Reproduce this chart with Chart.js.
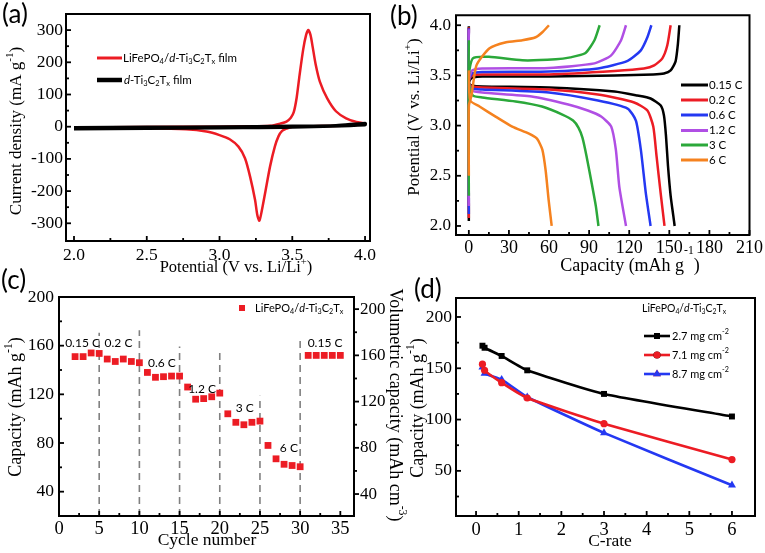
<!DOCTYPE html>
<html><head><meta charset="utf-8">
<script src="https://cdn.jsdelivr.net/npm/chart.js@4.4.0/dist/chart.umd.min.js"></script>
<style>
html,body{margin:0;padding:0;background:#fff;}
#wrap{position:relative;width:765px;height:553px;overflow:hidden;background:#fff;}
canvas{position:absolute;left:0;top:0;}
</style></head><body><div id="wrap">
<canvas id="ca" width="765" height="553"></canvas>
<canvas id="cb" width="765" height="553"></canvas>
<canvas id="cc" width="765" height="553"></canvas>
<canvas id="cd" width="765" height="553"></canvas>
</div>
<script>
const SERIF = '"Liberation Serif", "Times New Roman", serif';
const SANS = 'Lato, "Open Sans", sans-serif';

// ---------- (a) cyclic voltammetry ----------
const cvRedPotential = [2.00,2.50,3.00,3.20,3.35,3.42,3.46,3.49,3.51,3.53,3.55,3.575,3.595,3.61,3.625,3.64,3.66,3.69,3.74,3.80,3.87,3.94,4.00,
  4.00,3.90,3.70,3.50,3.46,3.43,3.405,3.38,3.347,3.313,3.29,3.274,3.26,3.244,3.21,3.175,3.13,3.07,3.00,2.91,2.77,2.52,2.00];
const cvRedCurrent = [-2,-1,0,1,3,10,16,28,45,90,160,240,285,300,285,248,195,139,88,48,26,15,10,
  8,4,2,0,-6,-13,-30,-62,-124,-207,-262,-292,-275,-227,-155,-98,-62,-39,-26,-15,-8,-5,-4];
const cvBlackPotential = [2.0,2.5,3.0,3.5,3.8,4.0,4.0,3.5,3.0,2.5,2.0];
const cvBlackCurrent = [-3,-2,-1,1,3,10,6,-1,-3,-5,-6];
const cvTicksX = [2.0,2.5,3.0,3.5,4.0];
const cvMinorX = [2.25,2.75,3.25,3.75];
const cvTicksY = [-300,-200,-100,0,100,200,300];
const cvMinorY = [-250,-150,-50,50,150,250];

// ---------- (b) charge / discharge profiles ----------
const rateNames = ['0.15 C','0.2 C','0.6 C','1.2 C','3 C','6 C'];
const c015ChargeCap = [0,0,1,3,10,60,109,138,146,151,154.7,156.4,157.5];
const c015ChargeV   = [2.05,3.42,3.46,3.48,3.49,3.49,3.50,3.51,3.52,3.55,3.64,3.81,4.00];
const c015DischCap  = [0,0,2,10,60,109,126,136,143.6,146,147.5,149,151,153,154];
const c015DischV    = [3.99,3.42,3.40,3.39,3.38,3.34,3.30,3.27,3.20,3.10,2.90,2.60,2.30,2.10,2.00];
const c02ChargeCap = [0,0,2.5,10,60,109,131,138.7,144.8,148.5,151];
const c02ChargeV   = [2.08,3.45,3.50,3.51,3.51,3.545,3.57,3.60,3.67,3.80,4.00];
const c02DischCap  = [0,0,2,10,60,96.6,123.7,133.6,138,140.5,143.5,146.4];
const c02DischV    = [3.98,3.42,3.39,3.38,3.36,3.31,3.23,3.15,2.99,2.69,2.33,2.00];
const c06ChargeCap = [0,0,2.5,10,60,96.6,118.8,128.7,133.6,136.6];
const c06ChargeV   = [2.12,3.45,3.52,3.535,3.54,3.57,3.645,3.75,3.88,4.00];
const c06DischCap  = [0,0,2,10,60,96.6,118.8,125,128.7,132.4,136];
const c06DischV    = [3.97,3.42,3.37,3.36,3.33,3.25,3.17,3.05,2.76,2.33,2.00];
const c12ChargeCap = [0,0,2.5,10,60,94,106.5,113.9,117.6];
const c12ChargeV   = [2.20,3.45,3.55,3.57,3.575,3.62,3.70,3.85,4.00];
const c12DischCap  = [0,0,2,10,47,74.4,89,99,106.5,110,112.6,117.6];
const c12DischV    = [3.96,3.42,3.35,3.33,3.29,3.21,3.15,3.09,2.99,2.76,2.39,2.00];
const c3ChargeCap  = [0,0,3,15,40,65,76,87,94,97.9];
const c3ChargeV    = [2.30,3.50,3.67,3.685,3.65,3.66,3.68,3.72,3.85,4.00];
const c3DischCap   = [0,0,3,10,35,54.7,70,78,82,85,88,92,95,97];
const c3DischV     = [3.85,3.42,3.30,3.28,3.24,3.19,3.11,3.05,2.98,2.88,2.70,2.42,2.20,2.00];
const c6ChargeCap  = [0,0,2,5.7,15.5,27.9,40,50,55,59.9];
const c6ChargeV    = [2.50,3.20,3.30,3.60,3.77,3.83,3.85,3.88,3.93,4.00];
const c6DischCap   = [0,1,8,20,32.5,45,51,55,57.5,59.7,62];
const c6DischV     = [3.55,3.25,3.19,3.09,2.99,2.92,2.87,2.76,2.55,2.26,2.00];
const profTicksX = [0,30,60,90,120,150,180,210];
const profMinorX = [15,45,75,105,135,165,195];
const profTicksY = [2.0,2.5,3.0,3.5,4.0];
const profMinorY = [2.25,2.75,3.25,3.75];

// ---------- (c) rate performance ----------
const cycleNumbers = [2,3,4,5,6,7,8,9,10,11,12,13,14,15,16,17,18,19,20,21,22,23,24,25,26,27,28,29,30,31,32,33,34,35];
const cycleCapacity = [151,151,154,153.6,149,147,149,147,146,138,134,134.5,135,135,126,116,116.5,118,121,104,97,95,97,98,78,67,62.5,61.5,60.5,152,152,152,152,152];
const separatorCycles = [5,10,15,20,25,30];
const separatorTops = [170.7,172.7,159.3,154.4,118.9,166.6];
const stepLabels = ['0.15 C','0.2 C','0.6 C','1.2 C','3 C','6 C','0.15 C'];
const stepLabelCycle = [2.93,7.4,12.8,17.8,23.1,28.6,33.1];
const stepLabelCap = [162.5,162.5,145.6,124,108.7,75.6,162.5];
const cycTicksX = [0,5,10,15,20,25,30,35];
const cycMinorX = [2.5,7.5,12.5,17.5,22.5,27.5,32.5];
const cycTicksY = [40,80,120,160,200];
const cycMinorY = [60,100,140,180];
const volTicksY = [40,80,120,160,200];
const volMinorY = [60,100,140,180];

// ---------- (d) capacity vs C-rate ----------
const cRates = [0.15,0.2,0.6,1.2,3,6];
const cap27 = [172,170,162,148,125,103];
const cap71 = [154,148,136,121,96,61];
const cap87 = [151,145,139,122,87,36];
const loadingNames = ['2.7 mg cm^{-2}','7.1 mg cm^{-2}','8.7 mg cm^{-2}'];
const crTicksX = [0,1,2,3,4,5,6];
const crMinorX = [0.5,1.5,2.5,3.5,4.5,5.5];
const crTicksY = [50,100,150,200];
const crMinorY = [25,75,125,175];

// ---------- helpers ----------
const pair = (xs, ys) => xs.map((x, i) => ({x, y: ys[i]}));

function parseRich(s){
  const parts=[]; let i=0, italic=false, buf='';
  const push=(t,mode)=>{ if(t) parts.push({t, mode, it: italic}); };
  while(i<s.length){
    const c=s[i];
    if((c==='_'||c==='^') && s[i+1]==='{'){
      push(buf,''); buf='';
      const j=s.indexOf('}',i);
      push(s.slice(i+2,j), c==='_'?'sub':'sup');
      i=j+1; continue;
    }
    if(c==='*'){ push(buf,''); buf=''; italic=!italic; i++; continue; }
    buf+=c; i++;
  }
  push(buf,'');
  return parts;
}
function drawRich(ctx, o){
  const parts=parseRich(o.text);
  const f=(p)=>`${p.it?'italic ':''}${p.mode?(o.size*0.65).toFixed(1):o.size}px ${o.family||SERIF}`;
  let w=0; parts.forEach(p=>{ctx.font=f(p); p.w=ctx.measureText(p.t).width; w+=p.w;});
  ctx.save(); ctx.translate(o.x,o.y); if(o.rot) ctx.rotate(o.rot*Math.PI/180);
  ctx.fillStyle=o.color||'#000'; ctx.textBaseline='middle'; ctx.textAlign='left';
  let cx = o.align==='left'?0:(o.align==='right'?-w:-w/2);
  parts.forEach(p=>{ctx.font=f(p);
    const dy = p.mode==='sub'? o.size*0.3 : (p.mode==='sup'? -o.size*(o.supUp||0.38) : 0);
    ctx.fillText(p.t,cx,dy); cx+=p.w;});
  ctx.restore();
}

function scale(min,max,ticks,o){
  return {type:'linear', min, max, position:o.position,
    grid:{display:false, drawTicks:false}, border:{display:false},
    ticks:{autoSkip:false, maxRotation:0, minRotation:0, padding:o.pad, color:'#000',
      font:{family:SERIF, size:o.size}, callback:(v)=> o.dec!=null ? Number(v).toFixed(o.dec) : String(v)},
    afterBuildTicks:(s)=>{ s.ticks = ticks.map(v=>({value:v})); },
    afterFit:(s)=>{ if(s.isHorizontal()) s.height=30; else s.width=50; }
  };
}

function framePlugin(cfg){
  return {id:'frame', afterDatasetsDraw(chart){
    const ctx=chart.ctx, a=chart.chartArea;
    ctx.save(); ctx.strokeStyle='#000'; ctx.lineWidth=2;
    ctx.beginPath(); ctx.rect(a.left,a.top,a.right-a.left,a.bottom-a.top); ctx.stroke();
    ctx.lineWidth=1.8; ctx.lineCap='butt';
    const sx=chart.scales.x, sy=chart.scales.y, sy2=chart.scales.y2;
    const tx=(vals,len)=>vals.forEach(v=>{const p=sx.getPixelForValue(v); ctx.beginPath(); ctx.moveTo(p,a.bottom); ctx.lineTo(p,a.bottom-len); ctx.stroke();});
    const ty=(vals,len)=>vals.forEach(v=>{const p=sy.getPixelForValue(v); ctx.beginPath(); ctx.moveTo(a.left,p); ctx.lineTo(a.left+len,p); ctx.stroke();});
    const ty2=(vals,len)=>vals.forEach(v=>{const p=sy2.getPixelForValue(v); ctx.beginPath(); ctx.moveTo(a.right,p); ctx.lineTo(a.right+len,p); ctx.stroke();});
    tx(cfg.xMajor,5); tx(cfg.xMinor,3); ty(cfg.yMajor,5); ty(cfg.yMinor,3);
    if(cfg.y2Major){ ty2(cfg.y2Major,5); ty2(cfg.y2Minor,3); }
    ctx.restore();
  }};
}
function decoPlugin(fn){ return {id:'deco', afterDraw(chart){ const ctx=chart.ctx; ctx.save(); fn(chart, ctx); ctx.restore(); }}; }

function baseOptions(pad){
  return {responsive:false, animation:false, events:[], devicePixelRatio:1,
    layout:{padding:pad},
    plugins:{legend:{display:false}, tooltip:{enabled:false}, title:{display:false}}};
}

const RED='#ec1c24', BLACK='#000000', BLUE='#2438f2', PURPLE='#b04fe4', GREEN='#2ba83a', ORANGE='#f5821f';

// ---------- chart (a) ----------
(function(){
  const o = baseOptions({left:16, top:14, right:765-370, bottom:553-241-30});
  o.scales = {
    x: scale(1.945,4.034,cvTicksX,{position:'bottom', pad:4, size:17.5, dec:1}),
    y: scale(-355,350,cvTicksY,{position:'left', pad:3, size:17.5})
  };
  new Chart(document.getElementById('ca'), {
    type:'scatter',
    data:{datasets:[
      {label:'d-Ti3C2Tx film', data:pair(cvBlackPotential,cvBlackCurrent), showLine:true, borderColor:BLACK, borderWidth:3.5, pointRadius:0, tension:0.3},
      {label:'LiFePO4/d-Ti3C2Tx film', data:pair(cvRedPotential,cvRedCurrent), showLine:true, borderColor:RED, borderWidth:2.5, pointRadius:0, tension:0.25}
    ]},
    options:o,
    plugins:[framePlugin({xMajor:cvTicksX,xMinor:cvMinorX,yMajor:cvTicksY,yMinor:cvMinorY}),
      decoPlugin((chart,ctx)=>{
        drawRich(ctx,{text:'(a)', x:2, y:15, size:26, family:SANS, align:'left'});
        drawRich(ctx,{text:'Current density (mA g^{-1})', x:17, y:131, size:17, rot:-90});
        drawRich(ctx,{text:'Potential (V vs. Li/Li^{+})', x:236, y:268, size:16.5});
        ctx.lineCap='butt';
        ctx.strokeStyle=RED; ctx.lineWidth=3; ctx.beginPath(); ctx.moveTo(97,58); ctx.lineTo(122,58); ctx.stroke();
        ctx.strokeStyle=BLACK; ctx.lineWidth=4.5; ctx.beginPath(); ctx.moveTo(97,80); ctx.lineTo(122,80); ctx.stroke();
        drawRich(ctx,{text:'LiFePO_{4}/*d*-Ti_{3}C_{2}T_{x} film', x:123, y:58, size:11.5, family:SANS, align:'left'});
        drawRich(ctx,{text:'*d*-Ti_{3}C_{2}T_{x} film', x:124, y:80, size:11.5, family:SANS, align:'left'});
      })]
  });
})();

// ---------- chart (b) ----------
(function(){
  const o = baseOptions({left:456-50, top:15, right:765-753, bottom:553-235-30});
  o.scales = {
    x: scale(-9.6,210,profTicksX,{position:'bottom', pad:2, size:18}),
    y: scale(1.91,4.10,profTicksY,{position:'left', pad:5, size:17})
  };
  o.scales.y.ticks.callback = (v)=>Number(v).toFixed(1);
  const colors=[BLACK,RED,BLUE,PURPLE,GREEN,ORANGE];
  const curves=[[c015ChargeCap,c015ChargeV,c015DischCap,c015DischV],[c02ChargeCap,c02ChargeV,c02DischCap,c02DischV],
    [c06ChargeCap,c06ChargeV,c06DischCap,c06DischV],[c12ChargeCap,c12ChargeV,c12DischCap,c12DischV],
    [c3ChargeCap,c3ChargeV,c3DischCap,c3DischV],[c6ChargeCap,c6ChargeV,c6DischCap,c6DischV]];
  const ds=[];
  curves.forEach((c,i)=>{
    ds.push({label:rateNames[i]+' charge', data:pair(c[0],c[1]), showLine:true, borderColor:colors[i], borderWidth:2.5, pointRadius:0, tension:0.2, order:6-i});
    ds.push({label:rateNames[i]+' discharge', data:pair(c[2],c[3]), showLine:true, borderColor:colors[i], borderWidth:2.5, pointRadius:0, tension:0.2, order:6-i});
  });
  new Chart(document.getElementById('cb'), {
    type:'scatter', data:{datasets:ds}, options:o,
    plugins:[framePlugin({xMajor:profTicksX,xMinor:profMinorX,yMajor:profTicksY,yMinor:profMinorY}),
      decoPlugin((chart,ctx)=>{
        drawRich(ctx,{text:'(b)', x:390, y:17, size:26, family:SANS, align:'left'});
        drawRich(ctx,{text:'Potential (V vs. Li/Li^{+})', x:415, y:117, size:17, rot:-90});
        drawRich(ctx,{text:'Capacity (mAh g^{-1})', x:630, y:266, size:18, supUp:0.85});
        const ly=[85,100,115,130.5,145,160];
        rateNames.forEach((n,i)=>{
          ctx.strokeStyle=colors[i]; ctx.lineWidth=3; ctx.beginPath(); ctx.moveTo(681,ly[i]); ctx.lineTo(708,ly[i]); ctx.stroke();
          drawRich(ctx,{text:n, x:709, y:ly[i], size:11.5, family:SANS, align:'left'});
        });
      })]
  });
})();

// ---------- chart (c) ----------
(function(){
  const o = baseOptions({left:59-50, top:297, right:765-354-50, bottom:553-516-30});
  o.scales = {
    x: scale(0,36.7,cycTicksX,{position:'bottom', pad:2, size:18.5}),
    y: scale(20,200,cycTicksY,{position:'left', pad:5, size:17.5}),
    y2: scale(21,210.5,volTicksY,{position:'right', pad:6, size:17})
  };
  const ds=[{label:'LiFePO4/d-Ti3C2Tx', data:pair(cycleNumbers,cycleCapacity), showLine:false, pointStyle:'rect', pointRadius:4.8,
      backgroundColor:RED, borderColor:RED, borderWidth:0, order:0}];
  separatorCycles.forEach((c,i)=>{
    ds.push({label:'sep'+c, data:[{x:c,y:20},{x:c,y:separatorTops[i]}], showLine:true, borderColor:'#808080', borderWidth:1.6,
      borderDash:[7,5], pointRadius:0, order:1});
  });
  new Chart(document.getElementById('cc'), {
    type:'scatter', data:{datasets:ds}, options:o,
    plugins:[framePlugin({xMajor:cycTicksX,xMinor:cycMinorX,yMajor:cycTicksY,yMinor:cycMinorY,y2Major:volTicksY,y2Minor:volMinorY}),
      decoPlugin((chart,ctx)=>{
        const sx=chart.scales.x, sy=chart.scales.y;
        drawRich(ctx,{text:'(c)', x:1, y:281, size:26, family:SANS, align:'left'});
        drawRich(ctx,{text:'Capacity (mAh g^{-1})', x:16, y:407, size:18, rot:-90});
        drawRich(ctx,{text:'Volumetric capacity (mAh cm^{-3})', x:395, y:405, size:18, rot:90});
        drawRich(ctx,{text:'Cycle number', x:207, y:540, size:17.5});
        stepLabels.forEach((t,i)=>drawRich(ctx,{text:t, x:sx.getPixelForValue(stepLabelCycle[i]), y:sy.getPixelForValue(stepLabelCap[i]), size:12, family:SANS}));
        ctx.fillStyle=RED; ctx.fillRect(239,305,6,6);
        drawRich(ctx,{text:'LiFePO_{4}/*d*-Ti_{3}C_{2}T_{x}', x:255, y:308, size:11, family:SANS, align:'left'});
      })]
  });
})();

// ---------- chart (d) ----------
(function(){
  const o = baseOptions({left:456-50, top:298, right:765-755, bottom:553-516-30});
  o.scales = {
    x: scale(-0.47,6.54,crTicksX,{position:'bottom', pad:3, size:18.5}),
    y: scale(6,218.5,crTicksY,{position:'left', pad:4, size:17.5})
  };
  const styles=[{c:BLACK,p:'rect',r:4.2},{c:RED,p:'circle',r:3.6},{c:BLUE,p:'triangle',r:4.6}];
  const series=[cap27,cap71,cap87];
  const ds=series.map((s,i)=>({label:loadingNames[i], data:pair(cRates,s), showLine:true, borderColor:styles[i].c, backgroundColor:styles[i].c,
    borderWidth:2.6, pointStyle:styles[i].p, pointRadius:styles[i].r, pointBorderWidth:0, tension:0.15, order:i}));
  new Chart(document.getElementById('cd'), {
    type:'scatter', data:{datasets:ds}, options:o,
    plugins:[framePlugin({xMajor:crTicksX,xMinor:crMinorX,yMajor:crTicksY,yMinor:crMinorY}),
      decoPlugin((chart,ctx)=>{
        drawRich(ctx,{text:'(d)', x:414, y:290, size:26, family:SANS, align:'left'});
        drawRich(ctx,{text:'Capacity (mAh g^{-1})', x:418, y:408, size:18, rot:-90});
        drawRich(ctx,{text:'C-rate', x:610, y:541, size:17.5});
        drawRich(ctx,{text:'LiFePO_{4}/*d*-Ti_{3}C_{2}T_{x}', x:642, y:309, size:10.5, family:SANS, align:'left'});
        const ly=[336,355,374];
        loadingNames.forEach((n,i)=>{
          ctx.strokeStyle=styles[i].c; ctx.lineWidth=2.6; ctx.beginPath(); ctx.moveTo(644,ly[i]); ctx.lineTo(670,ly[i]); ctx.stroke();
          Chart.helpers.drawPoint(ctx,{pointStyle:styles[i].p, radius:styles[i].r, borderWidth:0, rotation:0}, 657, ly[i]);
          ctx.fillStyle=styles[i].c; ctx.fill();
          drawRich(ctx,{text:n, x:672, y:ly[i], size:11, family:SANS, align:'left'});
        });
      })]
  });
})();
</script></body></html>
